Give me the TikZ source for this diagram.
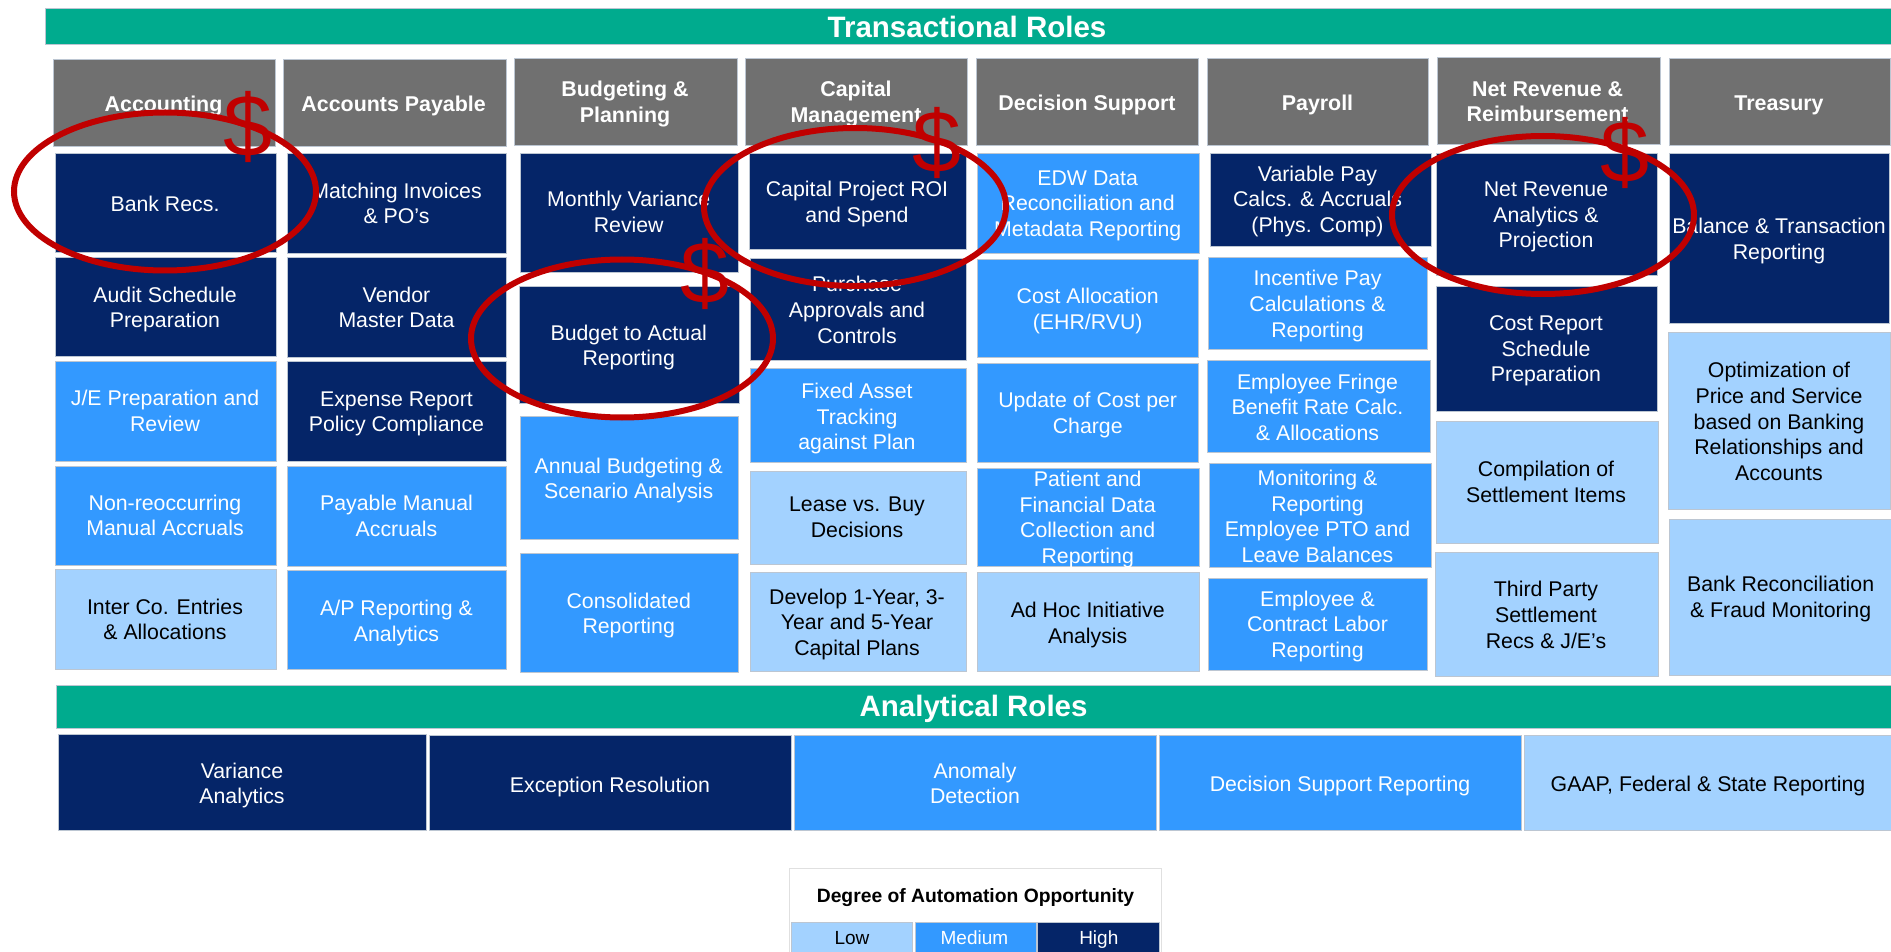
\documentclass[tikz,border=0pt]{standalone}
\usepackage{fontspec}
\setmainfont{Liberation Sans}
\usetikzlibrary{shapes.geometric}
\definecolor{cdark}{HTML}{052568}
\definecolor{cmid}{HTML}{3399FF}
\definecolor{clight}{HTML}{A3D2FF}
\definecolor{cgreen}{HTML}{00AB8E}
\definecolor{cgrey}{HTML}{707070}
\definecolor{cedge}{HTML}{BCC6D2}
\definecolor{cred}{HTML}{C00000}
\tikzset{
  x=1pt,y=-1pt,
  cell/.style={rectangle,inner sep=0pt,outer sep=0pt,draw=cedge,line width=0.7pt},
  low/.style={cell,fill=clight},
  med/.style={cell,fill=cmid},
  high/.style={cell,fill=cdark},
  hdr/.style={cell,fill=cgrey},
  band/.style={cell,fill=cgreen},
  panel/.style={cell,fill=white,draw=black!12},
  txt/.style={inner sep=0pt,align=center,yshift=-3.6pt,font=\fontsize{21.3}{25.6}\selectfont,
    execute at begin node={\strut},execute at end node={\strut},text=white},
  lowtxt/.style={txt,text=black},
  medtxt/.style={txt},
  hightxt/.style={txt},
  hdrtxt/.style={txt,font=\fontsize{21.4}{25.6}\selectfont\bfseries},
  bandtxt/.style={txt,font=\fontsize{29.5}{33}\selectfont\bfseries},
  ring/.style={ellipse,draw=cred,line width=6pt,inner sep=0pt,minimum width=302pt,minimum height=158pt},
  money/.style={inner sep=0pt,text=cred,font=\fontsize{88}{88}\selectfont},
}
% name, x0, y0, x1, y1, style, text x, text y, text
\newcommand{\rolebox}[9]{%
  \pgfmathsetmacro{\bxw}{#4-(#2)}\pgfmathsetmacro{\bxh}{#5-(#3)}%
  \pgfmathsetmacro{\bxx}{(#2+#4)/2}\pgfmathsetmacro{\bxy}{(#3+#5)/2}%
  \node[#6,minimum width=\bxw pt,minimum height=\bxh pt] (#1) at (\bxx,\bxy) {};
  \node[#6txt] (#1-t) at (#7,#8) {#9};
}
\begin{document}
\begin{tikzpicture}
\path[use as bounding box] (0,0) rectangle (1891,952);
% banners
\rolebox{bandT}{45}{8}{1891}{44}{band}{967}{27.2}{Transactional Roles}
\rolebox{bandA}{56}{685}{1891}{728}{band}{973.6}{706.7}{Analytical Roles}
% headers
\rolebox{h1}{53}{59}{275}{146}{hdr}{163.5}{102.5}{Accounting}
\rolebox{h2}{283}{59}{506}{146}{hdr}{393.6}{102.5}{Accounts Payable}
\rolebox{h3}{514}{58}{737}{145}{hdr}{625}{102}{Budgeting \&\\Planning}
\rolebox{h4}{745.5}{58}{967}{145}{hdr}{856}{102}{Capital\\Management}
\rolebox{h5}{976}{58}{1198}{145}{hdr}{1087}{102}{Decision Support}
\rolebox{h6}{1207}{58}{1428}{145}{hdr}{1317.5}{102}{Payroll}
\rolebox{h7}{1437.5}{57}{1660}{144}{hdr}{1547.6}{102}{Net Revenue \&\\Reimbursement}
\rolebox{h8}{1669}{58}{1890}{145}{hdr}{1779}{102}{Treasury}
% column 1
\rolebox{a1}{55}{153}{276}{252}{high}{165}{202.7}{Bank Recs.}
\rolebox{a2}{55}{257}{276}{356}{high}{165}{307.7}{Audit Schedule\\Preparation}
\rolebox{a3}{55}{361}{276}{461}{med}{165}{411}{J/E Preparation and\\Review}
\rolebox{a4}{55}{466}{276}{565}{med}{165}{515.5}{Non-reoccurring\\Manual Accruals}
\rolebox{a5}{55}{569}{276}{669}{low}{165}{619.7}{Inter Co. Entries\\\& Allocations}
% column 2
\rolebox{b1}{287}{153}{506}{253}{high}{396.5}{203.5}{Matching Invoices\\\& PO’s}
\rolebox{b2}{287}{257}{506}{357}{high}{396.5}{307.7}{Vendor\\Master Data}
\rolebox{b3}{287}{361}{506}{461}{high}{396.5}{412}{Expense Report\\Policy Compliance}
\rolebox{b4}{287}{466}{506}{566}{med}{396.5}{516}{Payable Manual\\Accruals}
\rolebox{b5}{287}{570}{506}{669}{med}{396.5}{621}{A/P Reporting \&\\Analytics}
% column 3
\rolebox{c1}{520}{153}{738}{272}{high}{628.7}{212.3}{Monthly Variance\\Review}
\rolebox{c2}{519}{286}{739}{403}{high}{628.7}{345.7}{Budget to Actual\\Reporting}
\rolebox{c3}{520}{416}{738}{539}{med}{628.7}{478.5}{Annual Budgeting \&\\Scenario Analysis}
\rolebox{c4}{520}{553}{738}{672}{med}{628.7}{613.7}{Consolidated\\Reporting}
% column 4
\rolebox{d1}{749}{153}{966}{249}{high}{857}{202}{Capital Project ROI\\and Spend}
\rolebox{d2}{750}{258}{966}{360}{high}{857}{310}{Purchase\\Approvals and\\Controls}
\rolebox{d3}{750}{368}{966}{462}{med}{857}{416.7}{Fixed Asset\\Tracking\\against Plan}
\rolebox{d4}{750}{471}{966}{564}{low}{857}{517.5}{Lease vs. Buy\\Decisions}
\rolebox{d5}{750}{572}{966}{671}{low}{857}{622.3}{Develop 1-Year, 3-\\Year and 5-Year\\Capital Plans}
% column 5
\rolebox{e1}{977}{153}{1199}{253}{med}{1087.7}{203.7}{EDW Data\\Reconciliation and\\Metadata Reporting}
\rolebox{e2}{977}{259}{1198}{357}{med}{1087.7}{308.8}{Cost Allocation\\(EHR/RVU)}
\rolebox{e3}{977}{363}{1198}{462}{med}{1087.7}{413}{Update of Cost per\\Charge}
\rolebox{e4}{977}{468}{1199}{566}{med}{1087.7}{517.5}{Patient and\\Financial Data\\Collection and\\Reporting}
\rolebox{e5}{977}{572}{1199}{671}{low}{1087.7}{622.8}{Ad Hoc Initiative\\Analysis}
% column 6
\rolebox{f1}{1210}{153}{1431}{246}{high}{1317.5}{199.3}{Variable Pay\\Calcs. \& Accruals\\(Phys. Comp)}
\rolebox{f2}{1208}{257}{1427}{349}{med}{1317.5}{304}{Incentive Pay\\Calculations \&\\Reporting}
\rolebox{f3}{1207}{360}{1430}{452}{med}{1317.5}{407.3}{Employee Fringe\\Benefit Rate Calc.\\\& Allocations}
\rolebox{f4}{1209}{463}{1431}{567}{med}{1317.5}{516.7}{Monitoring \&\\Reporting\\Employee PTO and\\Leave Balances}
\rolebox{f5}{1208}{578}{1427}{670}{med}{1317.5}{624.3}{Employee \&\\Contract Labor\\Reporting}
% column 7
\rolebox{g1}{1436}{153}{1657}{275}{high}{1546}{215}{Net Revenue\\Analytics \&\\Projection}
\rolebox{g2}{1436}{286}{1657}{411}{high}{1546}{349}{Cost Report\\Schedule\\Preparation}
\rolebox{g3}{1436}{421}{1658}{543}{low}{1546}{482.3}{Compilation of\\Settlement Items}
\rolebox{g4}{1435}{552}{1658}{676}{low}{1546}{615}{Third Party\\Settlement\\Recs \& J/E’s}
% column 8
\rolebox{k1}{1669}{153}{1889}{323}{high}{1779}{239}{Balance \& Transaction\\Reporting}
\rolebox{k2}{1668}{332}{1890}{509}{low}{1779}{421.7}{Optimization of\\Price and Service\\based on Banking\\Relationships and\\Accounts}
\rolebox{k3}{1669}{519}{1891}{675}{low}{1780.6}{597.2}{Bank Reconciliation\\\& Fraud Monitoring}
% analytical row
\rolebox{v1}{58}{734}{426}{830.5}{high}{242}{783.7}{Variance\\Analytics}
\rolebox{v2}{429.5}{735}{791}{830}{high}{610}{783.3}{Exception Resolution}
\rolebox{v3}{794}{735}{1156}{830}{med}{975}{783.5}{Anomaly\\Detection}
\rolebox{v4}{1159}{735}{1521.5}{830}{med}{1340}{783}{Decision Support Reporting}
\rolebox{v5}{1524}{735}{1891}{830}{low}{1708}{783}{GAAP,  Federal \& State Reporting}
% legend
\node[panel,minimum width=372.5pt,minimum height=90pt] (legend) at (975.25,913) {};
\node[txt,text=black,font=\fontsize{19.3}{23}\selectfont\bfseries] (legendtitle) at (975.5,893.8) {Degree of Automation Opportunity};
\tikzset{lgd/.style={txt,font=\fontsize{19}{23}\selectfont}}
\node[low,minimum width=121pt,minimum height=30pt] (lowcell) at (851.5,937) {};
\node[med,minimum width=121pt,minimum height=30pt] (medcell) at (975.5,937) {};
\node[high,minimum width=121.5pt,minimum height=30pt] (highcell) at (1098.25,937) {};
\node[lgd,text=black] (lowlabel) at (852,936.7) {Low};
\node[lgd] (medlabel) at (974.4,936.7) {Medium};
\node[lgd] (highlabel) at (1098.8,936.7) {High};
% highlights
\node[ring] (ring1) at (165,191.5) {};
\node[ring] (ring2) at (622,338.5) {};
\node[ring] (ring3) at (855,207) {};
\node[ring] (ring4) at (1543,215) {};
\node[money] (dollar1) at (248,127) {\$};
\node[money] (dollar2) at (705,274) {\$};
\node[money] (dollar3) at (937,143) {\$};
\node[money] (dollar4) at (1625,152.5) {\$};
\end{tikzpicture}
\end{document}
